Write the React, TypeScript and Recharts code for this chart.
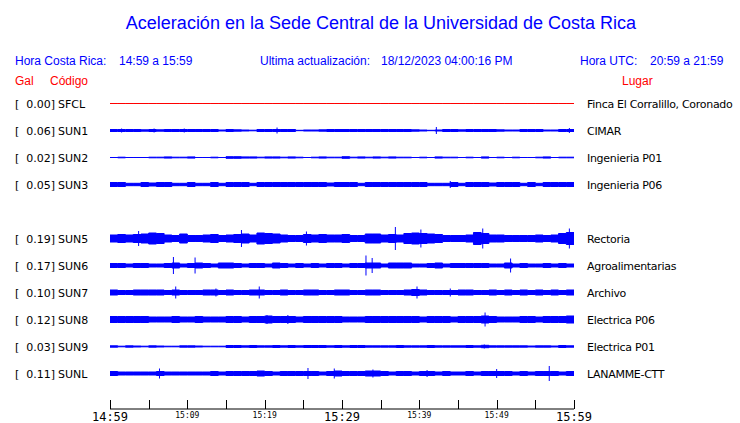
import { ComposedChart, Area, Scatter, ErrorBar, XAxis, YAxis } from "recharts";

// estaciones (SUN4 no reporta, queda su fila vacía)
const CODES = ["SFCL", "SUN1", "SUN2", "SUN3", "SUN5", "SUN6", "SUN7", "SUN8", "SUN9", "SUNL"];
const GAL = [0.0, 0.06, 0.02, 0.05, 0.19, 0.17, 0.1, 0.12, 0.03, 0.11];
const PLACES = [
  "Finca El Corralillo, Coronado",
  "CIMAR",
  "Ingenieria P01",
  "Ingenieria P06",
  "Rectoria",
  "Agroalimentarias",
  "Archivo",
  "Electrica P06",
  "Electrica P01",
  "LANAMME-CTT",
];
const ROWS = [0, 1, 2, 3, 5, 6, 7, 8, 9, 10];
const COLORS = ["#ff0000", "#0000ff", "#0000ff", "#0000ff", "#0000ff", "#0000ff", "#0000ff", "#0000ff", "#0000ff", "#0000ff"];

// envolvente por minuto (14:59 -> 15:59), media altura
const SFCL_AMP = [0, 0, 0, 0, 0, 0, 0, 0, 0, 0, 0, 0, 0, 0, 0, 0, 0, 0, 0, 0, 0, 0, 0, 0, 0, 0, 0, 0, 0, 0, 0, 0, 0, 0, 0, 0, 0, 0, 0, 0, 0, 0, 0, 0, 0, 0, 0, 0, 0, 0, 0, 0, 0, 0, 0, 0, 0, 0, 0, 0];
const SUN1_AMP = [1, 1, 1, 1, 0.7, 1, 0.7, 1, 1, 1, 1, 1, 1, 1, 0.5, 1, 0.7, 0.5, 0.3, 1, 1, 1, 1, 1, 0.2, 0.5, 0.5, 0.7, 1, 1, 1, 1, 1, 1, 1, 1, 1, 1, 1, 0.7, 0.5, 0.2, 0.5, 1, 1, 0.7, 1, 1, 1, 1, 0.7, 0.5, 0.5, 1, 1, 1, 0.5, 0.5, 1, 1];
const SUN2_AMP = [0, 0.3, 0, 0, 0, 0.3, 0.3, 0.6, 0.3, 0.3, 0.6, 0, 0, 0.3, 0, 0.8, 0.8, 0.6, 0.6, 0.3, 0.6, 0.6, 0.3, 0.6, 0.3, 0, 0.3, 0.6, 0.3, 0.3, 0.8, 0.3, 0.6, 0.3, 0.6, 0.3, 0.6, 0.3, 0.3, 0, 0.3, 0, 0.6, 0.3, 0.3, 0, 0.3, 0, 0.6, 0, 0.3, 0, 0.3, 0, 0, 0.3, 0.6, 0, 0.3, 0.3];
const SUN3_AMP = [2, 2, 1.2, 1.2, 2, 1.5, 2, 2, 1.2, 1.2, 2, 1.2, 1.2, 2, 1.2, 2, 2, 2, 1.2, 2, 2, 2, 2, 2, 2, 2, 2, 2, 1.5, 2, 2, 2, 1.2, 2, 2, 2, 2, 2, 2, 2, 2, 1.2, 1.2, 1.2, 2, 1.2, 2, 2, 2, 1.5, 2, 2, 2, 1.2, 2, 1.2, 2, 2, 2, 2];
const SUN5_AMP = [3.5, 4, 3.5, 4, 4.5, 5.5, 5, 3.5, 3, 4.5, 3, 3, 3.5, 4, 3, 3.5, 4, 4.5, 3.5, 5.5, 5, 4.5, 3.5, 3, 3, 4, 3.5, 4, 3.5, 3.5, 4, 3, 3, 4.5, 4.5, 3.5, 4, 3.5, 5, 5.5, 5, 4.5, 4, 3, 3, 3, 3.5, 6, 5, 3.5, 3.5, 3, 3, 3, 3, 3.5, 3, 3.5, 5, 6];
const SUN6_AMP = [2, 2, 1.5, 2, 2, 1.5, 1.5, 2, 2.5, 1.5, 2, 2.5, 2, 1.5, 2.5, 2.5, 2, 1.5, 2, 2, 1.5, 2.5, 2, 1.5, 2, 1.5, 2, 1.5, 2, 2, 1.5, 2, 2, 2.5, 2.5, 1.5, 2.5, 2.5, 2.5, 1.5, 1.5, 2, 2.5, 1.5, 2, 2, 2, 2, 2, 1.5, 1.5, 2.5, 1.5, 2, 1.5, 1.5, 2, 1.5, 2, 1.5];
const SUN7_AMP = [2.5, 2, 2, 2.5, 2.5, 2.5, 2.5, 2, 2.5, 2, 2, 2, 2.5, 2.5, 2, 2.5, 2, 2, 2.5, 2.5, 2, 2, 2.5, 2, 2, 2.5, 2.5, 2, 2, 2.5, 2.5, 2, 2, 2.5, 2.5, 2, 2, 2, 2.5, 3, 2.5, 2, 2, 2, 2, 2.5, 2.5, 2, 2, 2.5, 2, 2.5, 2, 2.5, 2, 2.5, 2, 2.5, 2, 2.5];
const SUN8_AMP = [3, 3, 3, 3, 3, 2.5, 2.5, 2.5, 3, 2.5, 2.5, 3, 2.5, 2.5, 2.5, 3, 3, 2.5, 3, 3, 3.5, 3, 3, 3, 2.5, 3, 3, 3, 3, 3, 2.5, 2.5, 2.5, 3, 3, 3, 3, 3, 3, 3, 2.5, 3, 3, 3, 2.5, 3, 3, 3, 3.5, 3, 2.5, 2.5, 2.5, 3, 3, 2.5, 3, 3, 3, 3.5];
const SUN9_AMP = [0.7, 0.3, 0.7, 0.5, 0.3, 0.7, 0.5, 0.3, 0.3, 0.7, 0.7, 0.5, 0.3, 0.3, 0.3, 1, 1, 0.7, 1, 0.7, 0.7, 1, 0.7, 1, 0.7, 1, 1, 1, 0.7, 1, 0.7, 1, 1, 0.7, 0.7, 0.7, 0.7, 1, 0.7, 0.7, 0.7, 1, 0.7, 0.7, 0.7, 0.7, 1, 0.7, 1.2, 0.7, 0.7, 0.7, 0.7, 0.7, 0.5, 0.7, 0.7, 0.5, 1, 0.7];
const SUNL_AMP = [2, 1.5, 1.5, 1.5, 1.5, 1.5, 2, 1.5, 1.5, 1.5, 1.5, 1.5, 1.5, 2, 1.5, 2, 2, 2, 2, 2.5, 2, 1.5, 2, 2, 2, 2, 2, 1.5, 2, 2.5, 2, 2, 2, 2.5, 2.5, 2, 1.5, 2, 2, 1.5, 2, 2, 1.5, 2, 1.5, 1.5, 2, 1.5, 2, 2, 2, 2, 1.5, 2, 1.5, 2, 2, 2, 1.5, 2];
const AMPS = [SFCL_AMP, SUN1_AMP, SUN2_AMP, SUN3_AMP, SUN5_AMP, SUN6_AMP, SUN7_AMP, SUN8_AMP, SUN9_AMP, SUNL_AMP];

// picos aislados: [minuto, media altura]
const SUN1_SPIKES = [[1.5, 2], [5.7, 2], [9.6, 2], [21.6, 3], [42.2, 3.5], [59.4, 2.5]];
const SUN3_SPIKES = [[44, 3.5]];
const SUN5_SPIKES = [[3.7, 7.5], [17, 8.5], [25.4, 7], [36.9, 11.5], [40.2, 9], [48.2, 10], [59.4, 10]];
const SUN6_SPIKES = [[8.2, 8.5], [11, 8], [33.1, 10], [33.9, 7.5], [51.8, 7]];
const SUN7_SPIKES = [[8.5, 6], [13.7, 4], [19.3, 6], [39.7, 6], [44, 4]];
const SUN8_SPIKES = [[20.3, 4.5], [23, 4.5], [48.5, 7]];
const SUN9_SPIKES = [[48.4, 2]];
const SUNL_SPIKES = [[6.4, 5], [25.6, 5.5], [29, 5], [34, 4], [41, 3.5], [50, 4.5], [56.8, 7.5]];
const SPIKES = [[], SUN1_SPIKES, [], SUN3_SPIKES, SUN5_SPIKES, SUN6_SPIKES, SUN7_SPIKES, SUN8_SPIKES, SUN9_SPIKES, SUNL_SPIKES];

const TIME_TICKS = [0, 5, 10, 15, 20, 25, 30, 35, 40, 45, 50, 55, 60];
const TIME_LABELS = ["14:59", "", "15:09", "", "15:19", "", "15:29", "", "15:39", "", "15:49", "", "15:59"];

const W = 740;
const H = 423;
const PLOT_LEFT = 110;
const PLOT_RIGHT = 574;
const AXIS_Y = 409;
const ROW_TOP = 103.5;
const ROW_STEP = 27;
const BLUE = "#0000ff";
const RED = "#ff0000";

const rowY = (i: number) => ROW_TOP + ROW_STEP * ROWS[i];

const traceData = Array.from({ length: 61 }, (_, t) => {
  const row: Record<string, any> = { t };
  CODES.forEach((code, i) => {
    const a = AMPS[i][Math.min(t, 59)];
    row[code] = [rowY(i) - a, rowY(i) + a];
  });
  return row;
});

const spikeData = SPIKES.flatMap((list, i) =>
  list.map(([t, a]) => ({ t, y: rowY(i), err: a }))
);

function TimeTick(props: any) {
  const { x, y, payload } = props;
  const idx = TIME_TICKS.indexOf(payload.value);
  const label = TIME_LABELS[idx];
  const big = idx % 6 === 0;
  const px = Math.round(x) + 0.5;
  return (
    <g>
      <line x1={px} x2={px} y1={y} y2={y - 9} stroke="#000" strokeWidth={1} />
      {label && (
        <text
          x={x}
          y={y + (big ? 12 : 9)}
          textAnchor="middle"
          fontFamily="DejaVu Sans Mono"
          fontSize={big ? 12 : 8}
          fill="#000"
        >
          {label}
        </text>
      )}
    </g>
  );
}

const head = { fontFamily: "Liberation Sans", fontSize: 12 };
const rowFont = { fontFamily: "DejaVu Sans", fontSize: 11 };

export default function App() {
  return (
    <div style={{ position: "absolute", left: 0, top: 0, width: W, height: H, background: "#fff" }}>
      <ComposedChart
        width={W}
        height={H}
        data={traceData}
        margin={{ top: 0, right: W - PLOT_RIGHT, bottom: 0, left: PLOT_LEFT }}
      >
        <XAxis
          dataKey="t"
          type="number"
          domain={[0, 60]}
          ticks={TIME_TICKS}
          interval={0}
          height={H - AXIS_Y}
          tickSize={0}
          tickMargin={0}
          tickLine={false}
          axisLine={{ stroke: "#000" }}
          tick={<TimeTick />}
        />
        <YAxis type="number" domain={[0, AXIS_Y]} reversed hide allowDataOverflow />
        {CODES.map((code, i) => (
          <Area
            key={code}
            dataKey={code}
            type="stepAfter"
            stroke={COLORS[i]}
            strokeWidth={1}
            fill={COLORS[i]}
            fillOpacity={1}
            dot={false}
            activeDot={false}
            isAnimationActive={false}
          />
        ))}
        <Scatter data={spikeData} dataKey="y" shape={() => <g />} isAnimationActive={false}>
          <ErrorBar dataKey="err" direction="y" width={0} stroke={BLUE} strokeWidth={1} isAnimationActive={false} />
        </Scatter>
      </ComposedChart>
      <svg
        width={W}
        height={H}
        style={{ position: "absolute", left: 0, top: 0, pointerEvents: "none" }}
      >
        <text x={381} y={29} textAnchor="middle" fontFamily="Liberation Sans" fontSize={18} fill={BLUE}>
          Aceleración en la Sede Central de la Universidad de Costa Rica
        </text>
        <text x={15} y={65} {...head} fill={BLUE}>Hora Costa Rica:</text>
        <text x={119} y={65} {...head} fill={BLUE}>14:59 a 15:59</text>
        <text x={260} y={65} {...head} fill={BLUE}>Ultima actualización:</text>
        <text x={381} y={65} {...head} fill={BLUE}>18/12/2023 04:00:16 PM</text>
        <text x={580} y={65} {...head} fill={BLUE}>Hora UTC:</text>
        <text x={650} y={65} {...head} fill={BLUE}>20:59 a 21:59</text>
        <text x={15} y={85} {...head} fill={RED}>Gal</text>
        <text x={50} y={85} {...head} fill={RED}>Código</text>
        <text x={622} y={85} {...head} fill={RED}>Lugar</text>
        {CODES.map((code, i) => (
          <g key={code}>
            <text x={15} y={rowY(i) + 4} {...rowFont} fill="#000">[</text>
            <text x={55} y={rowY(i) + 4} {...rowFont} textAnchor="end" fill="#000">
              {GAL[i].toFixed(2)}]
            </text>
            <text x={58} y={rowY(i) + 4} {...rowFont} fill="#000">{code}</text>
            <text x={587} y={rowY(i) + 4} {...rowFont} letterSpacing={-0.3} fill="#000">
              {PLACES[i]}
            </text>
          </g>
        ))}
      </svg>
    </div>
  );
}
